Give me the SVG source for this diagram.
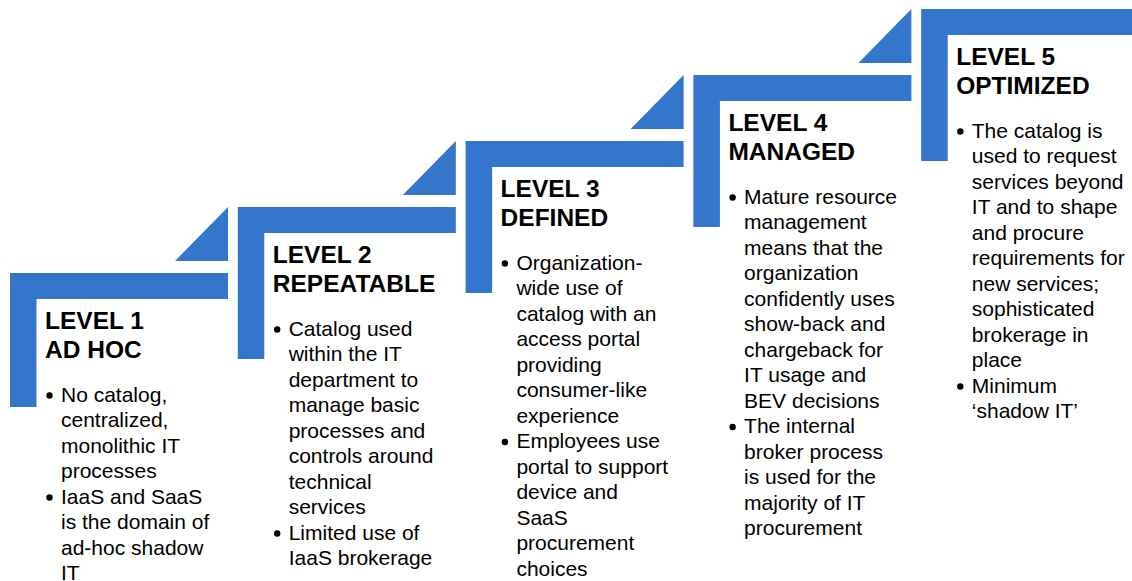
<svg xmlns="http://www.w3.org/2000/svg" width="1132" height="581" viewBox="0 0 1132 581">
<style>
.step{fill:#3476CC}
.hd{font-family:"Liberation Sans",Arial,sans-serif;font-size:24.5px;font-weight:bold;fill:#000}
.bd{font-family:"Liberation Sans",Arial,sans-serif;font-size:21px;fill:#000}
.bl{fill:#000}
</style>
<rect width="1132" height="581" fill="#fff"/>
<g id="connectors">
<polygon class="step" points="228,261 228,207 175,261"/>
<polygon class="step" points="455.8,195 455.8,141 402.8,195"/>
<polygon class="step" points="683.6,129 683.6,75 630.6,129"/>
<polygon class="step" points="911.4,63 911.4,9 858.4,63"/>
</g>
<g id="level1">
<path class="step" d="M10,273 H228 V299 H36.5 V407 H10 Z"/>
<text class="hd" x="45" y="328.5">LEVEL 1<tspan x="45" dy="29.5">AD HOC</tspan></text>
<circle class="bl" cx="49.5" cy="395.5" r="3.2"/>
<circle class="bl" cx="49.5" cy="497.5" r="3.2"/>
<text class="bd" x="61" y="401.5">No catalog,<tspan x="61" dy="25.5">centralized,</tspan><tspan x="61" dy="25.5">monolithic IT</tspan><tspan x="61" dy="25.5">processes</tspan><tspan x="61" dy="25.5">IaaS and SaaS</tspan><tspan x="61" dy="25.5">is the domain of</tspan><tspan x="61" dy="25.5">ad-hoc shadow</tspan><tspan x="61" dy="25.5">IT</tspan></text>
</g>
<g id="level2">
<path class="step" d="M237.8,207 H455.8 V233 H264.3 V359 H237.8 Z"/>
<text class="hd" x="272.8" y="262.5">LEVEL 2<tspan x="272.8" dy="29.5">REPEATABLE</tspan></text>
<circle class="bl" cx="277.2" cy="329.5" r="3.2"/>
<circle class="bl" cx="277.2" cy="533.5" r="3.2"/>
<text class="bd" x="288.7" y="335.5">Catalog used<tspan x="288.7" dy="25.5">within the IT</tspan><tspan x="288.7" dy="25.5">department to</tspan><tspan x="288.7" dy="25.5">manage basic</tspan><tspan x="288.7" dy="25.5">processes and</tspan><tspan x="288.7" dy="25.5">controls around</tspan><tspan x="288.7" dy="25.5">technical</tspan><tspan x="288.7" dy="25.5">services</tspan><tspan x="288.7" dy="25.5">Limited use of</tspan><tspan x="288.7" dy="25.5">IaaS brokerage</tspan></text>
</g>
<g id="level3">
<path class="step" d="M465.6,141 H683.6 V167 H492.1 V293 H465.6 Z"/>
<text class="hd" x="500.6" y="196.5">LEVEL 3<tspan x="500.6" dy="29.5">DEFINED</tspan></text>
<circle class="bl" cx="504.9" cy="263.5" r="3.2"/>
<circle class="bl" cx="504.9" cy="442" r="3.2"/>
<text class="bd" x="516.4" y="269.5">Organization-<tspan x="516.4" dy="25.5">wide use of</tspan><tspan x="516.4" dy="25.5">catalog with an</tspan><tspan x="516.4" dy="25.5">access portal</tspan><tspan x="516.4" dy="25.5">providing</tspan><tspan x="516.4" dy="25.5">consumer-like</tspan><tspan x="516.4" dy="25.5">experience</tspan><tspan x="516.4" dy="25.5">Employees use</tspan><tspan x="516.4" dy="25.5">portal to support</tspan><tspan x="516.4" dy="25.5">device and</tspan><tspan x="516.4" dy="25.5">SaaS</tspan><tspan x="516.4" dy="25.5">procurement</tspan><tspan x="516.4" dy="25.5">choices</tspan></text>
</g>
<g id="level4">
<path class="step" d="M693.4,75 H911.4 V101 H719.9 V227 H693.4 Z"/>
<text class="hd" x="728.4" y="130.5">LEVEL 4<tspan x="728.4" dy="29.5">MANAGED</tspan></text>
<circle class="bl" cx="732.6" cy="197.5" r="3.2"/>
<circle class="bl" cx="732.6" cy="427" r="3.2"/>
<text class="bd" x="744.1" y="203.5">Mature resource<tspan x="744.1" dy="25.5">management</tspan><tspan x="744.1" dy="25.5">means that the</tspan><tspan x="744.1" dy="25.5">organization</tspan><tspan x="744.1" dy="25.5">confidently uses</tspan><tspan x="744.1" dy="25.5">show-back and</tspan><tspan x="744.1" dy="25.5">chargeback for</tspan><tspan x="744.1" dy="25.5">IT usage and</tspan><tspan x="744.1" dy="25.5">BEV decisions</tspan><tspan x="744.1" dy="25.5">The internal</tspan><tspan x="744.1" dy="25.5">broker process</tspan><tspan x="744.1" dy="25.5">is used for the</tspan><tspan x="744.1" dy="25.5">majority of IT</tspan><tspan x="744.1" dy="25.5">procurement</tspan></text>
</g>
<g id="level5">
<path class="step" d="M921.2,9 H1132 V35 H947.7 V161 H921.2 Z"/>
<text class="hd" x="956.2" y="64.5">LEVEL 5<tspan x="956.2" dy="29.5">OPTIMIZED</tspan></text>
<circle class="bl" cx="960.3" cy="131.5" r="3.2"/>
<circle class="bl" cx="960.3" cy="386.5" r="3.2"/>
<text class="bd" x="971.8" y="137.5">The catalog is<tspan x="971.8" dy="25.5">used to request</tspan><tspan x="971.8" dy="25.5">services beyond</tspan><tspan x="971.8" dy="25.5">IT and to shape</tspan><tspan x="971.8" dy="25.5">and procure</tspan><tspan x="971.8" dy="25.5">requirements for</tspan><tspan x="971.8" dy="25.5">new services;</tspan><tspan x="971.8" dy="25.5">sophisticated</tspan><tspan x="971.8" dy="25.5">brokerage in</tspan><tspan x="971.8" dy="25.5">place</tspan><tspan x="971.8" dy="25.5">Minimum</tspan><tspan x="971.8" dy="25.5">‘shadow IT’</tspan></text>
</g>
</svg>
